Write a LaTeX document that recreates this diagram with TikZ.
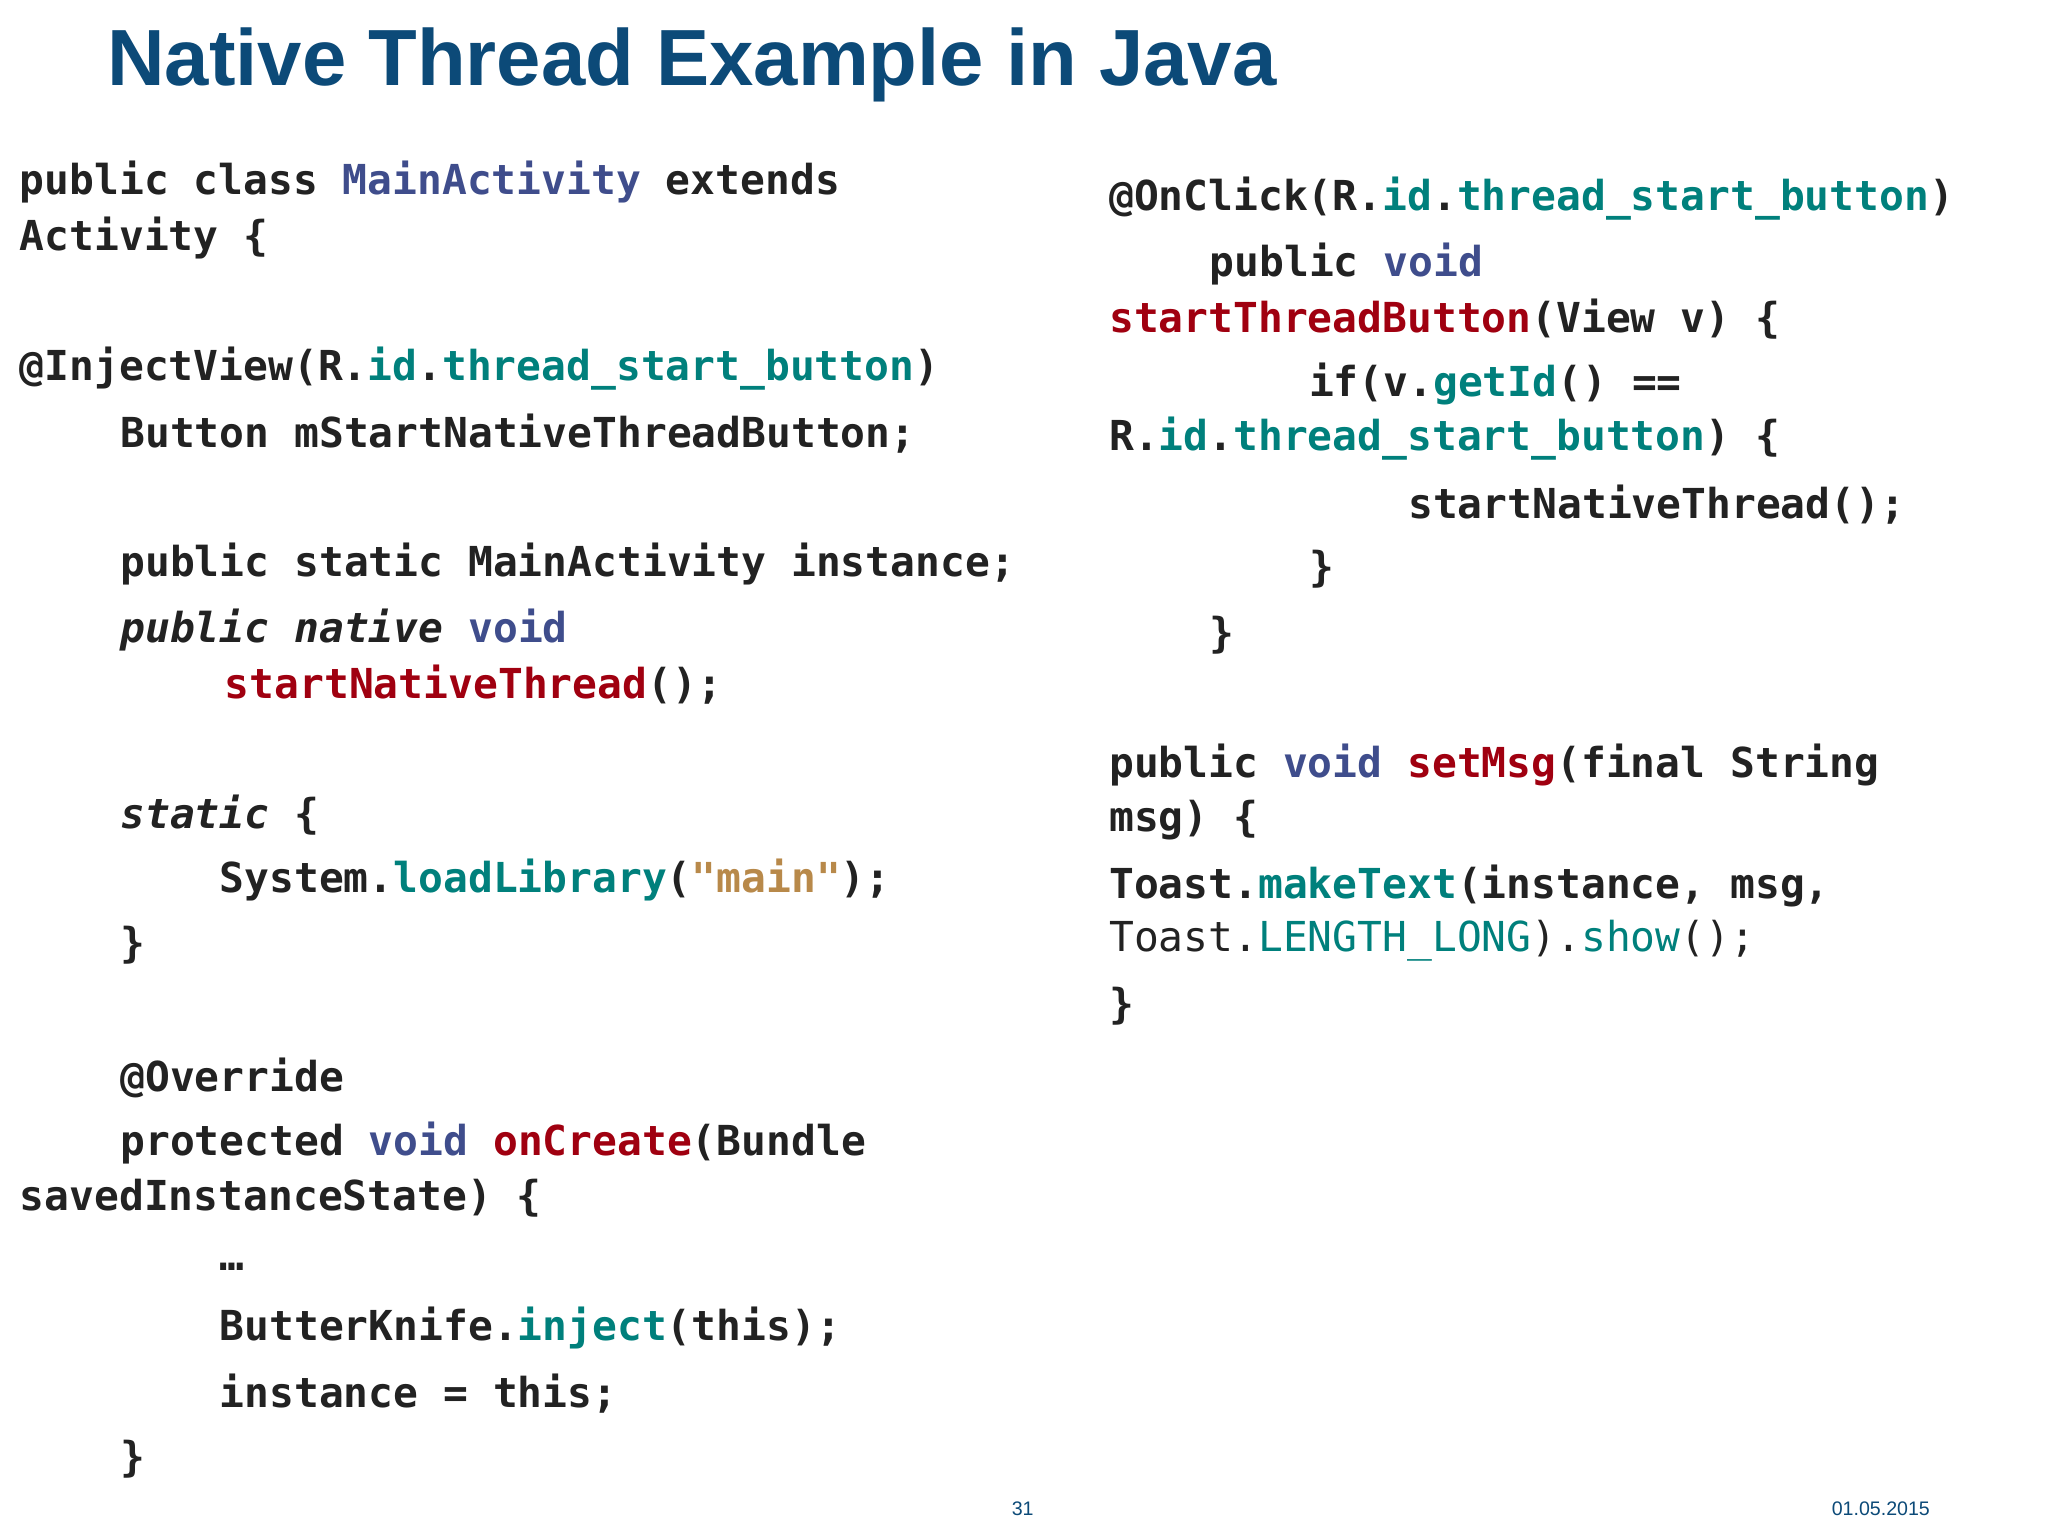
\documentclass[tikz,border=0pt]{standalone}
\usepackage{fontspec}
\setmainfont{Liberation Sans}
\setmonofont{DejaVu Sans Mono}
\definecolor{ttl}{HTML}{0C4A78}
\definecolor{kwc}{HTML}{3F4D8C}
\definecolor{tealc}{HTML}{00807C}
\definecolor{redc}{HTML}{A00010}
\definecolor{strc}{HTML}{B8894A}
\definecolor{txtc}{HTML}{222222}
\newcommand\K[1]{\textcolor{kwc}{#1}}
\newcommand\T[1]{\textcolor{tealc}{#1}}
\newcommand\R[1]{\textcolor{redc}{#1}}
\newcommand\St[1]{\textcolor{strc}{#1}}
\begin{document}
\begin{tikzpicture}[x=1pt,y=-1pt,
  code/.style={anchor=west,inner sep=0pt,font=\ttfamily\bfseries\fontsize{31.6}{31.6}\selectfont,text=txtc},
  foot/.style={inner sep=0pt,font=\fontsize{15}{15}\selectfont,text=ttl}]
\fill[white] (0,0) rectangle (1568,1176);
\useasboundingbox (0,0) rectangle (1568,1176);
\node[anchor=west,inner sep=0pt,font=\bfseries\fontsize{61}{61}\selectfont,text=ttl] (title) at (82,50) {Native Thread Example in Java};
% left column
\node[code] (a1) at (15,139) {public class \K{MainActivity} extends};
\node[code] (a2) at (15,182) {Activity \{};
\node[code] (a3) at (15,282) {@InjectView(R.\T{id}.\T{thread\_start\_button})};
\node[code] (a4) at (92,332) {Button mStartNativeThreadButton;};
\node[code] (a5) at (92,432) {public static MainActivity instance;};
\node[code] (a6) at (92,482) {\textit{public native} \K{void}};
\node[code] (a7) at (172,524) {\R{startNativeThread}();};
\node[code] (a8) at (92,624) {\textit{static} \{};
\node[code] (a9) at (168,674) {System.\T{loadLibrary}(\St{"main"});};
\node[code] (a10) at (92,724) {\}};
\node[code] (a11) at (92,825) {@Override};
\node[code] (a12) at (92,875) {protected \K{void} \R{onCreate}(Bundle};
\node[code] (a13) at (15,917) {savedInstanceState) \{};
\node[code] (a14) at (168,970) {…};
\node[code] (a15) at (168,1017) {ButterKnife.\T{inject}(this);};
\node[code] (a16) at (168,1067) {instance = this;};
\node[code] (a17) at (92,1117) {\}};
% right column
\node[code] (b1) at (849,152) {@OnClick(R.\T{id}.\T{thread\_start\_button})};
\node[code] (b2) at (926,202) {public \K{void}};
\node[code] (b3) at (849,244) {\R{startThreadButton}(View v) \{};
\node[code] (b4) at (1002,294) {if(v.\T{getId}() ==};
\node[code] (b5) at (849,336) {R.\T{id}.\T{thread\_start\_button}) \{};
\node[code] (b6) at (1078,386) {startNativeThread();};
\node[code] (b7) at (1002,436) {\}};
\node[code] (b8) at (926,486) {\}};
\node[code] (b9) at (849,586) {public \K{void} \R{setMsg}(final String};
\node[code] (b10) at (849,628) {msg) \{};
\node[code] (b11) at (849,678) {Toast.\T{makeText}(instance, msg,};
\node[code] (b12) at (849,720) {\mdseries Toast.\T{LENGTH\_LONG}).\T{show}();};
\node[code] (b13) at (849,770) {\}};
\node[foot] (pg) at (783,1155) {31};
\node[foot] (dt) at (1440,1155) {01.05.2015};
\end{tikzpicture}
\end{document}
